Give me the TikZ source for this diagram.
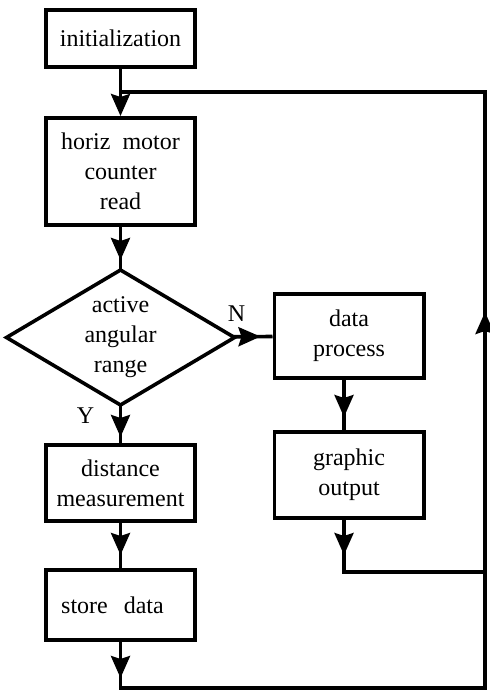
\documentclass[tikz,border=0pt]{standalone}
\usepackage{fontspec}
\setmainfont{Liberation Serif}
\usetikzlibrary{positioning, shapes.geometric, arrows.meta, decorations.markings}

\begin{document}
\begin{tikzpicture}[x=0.5pt, y=-0.5pt, line width=1.8pt, font=\fontsize{12}{15}\selectfont,
      block/.style={rectangle, draw, minimum width=74.7pt, align=center, inner sep=2pt},
      check/.style={diamond, draw, aspect=1.7, minimum width=114pt, minimum height=67.5pt, align=center,
      inner sep=0pt, outer sep=0pt},
      tip/.style={-{Stealth[length=11pt, width=9.5pt, inset=1.5pt]}},
      midtip/.style={decoration={markings, mark=at position #1 with {\arrow{Stealth[length=11pt, width=9.5pt, inset=1.5pt]}}},
      postaction={decorate}},
      midtip/.default=-5pt
    ]
      \useasboundingbox (0,0) rectangle (489,690);

      \node[block, minimum height=28.7pt] (init) at (120.5,38.5) {initialization};
      \node[block, minimum height=53.7pt, below=23.5pt of init] (horiz) {horiz~~motor\\counter\\read};
      \node[check, below=21.5pt of horiz] (dec) {active\\angular\\range};
      \node[block, minimum height=38.2pt, below=19pt of dec] (dist) {distance\\measurement};
      \node[block, minimum height=35.2pt, below=22.5pt of dist] (store) {store\hspace{8pt}data\hspace{8pt}};
      \node[block, minimum height=42.2pt, right=19pt of dec, yshift=0.75pt] (data) {data\\process};
      \node[block, minimum height=43.2pt, below=25pt of data] (graphic) {graphic\\output};

      \node (nlab) at ([xshift=1pt, yshift=12pt]dec.east) {N};
      \node (ylab) at ([xshift=-17.5pt, yshift=-5.5pt]dec.south) {Y};

      \coordinate (bl) at (init.south |- 0,688);
      \coordinate (br) at (485,688);
      \coordinate (gb) at ([xshift=-2.5pt]graphic.south |- 0,572);
      \coordinate (gr) at (485,572);
      \coordinate (tr) at (485,92);
      \coordinate (tl) at (init.south |- tr);

      \draw[tip] (init) -- (horiz);
      \draw[midtip] (horiz) -- (dec);
      \draw[midtip=-3pt] (dec) -- (dist);
      \draw[midtip=-6.5pt] (dist) -- (store);
      \draw[midtip=18pt] (store) -- (bl) -- (br) -- (gr);
      \draw[midtip=-6pt] (dec) -- (data);
      \draw[midtip=-6.5pt] ([xshift=-2.5pt]data.south) -- ([xshift=-2.5pt]graphic.north);
      \draw[midtip=17.5pt] ([xshift=-2.5pt]graphic.south) -- (gb) -- (gr);
      \draw[midtip=130pt] (gr) -- (tr) -- (tl);
    \end{tikzpicture}
\end{document}
